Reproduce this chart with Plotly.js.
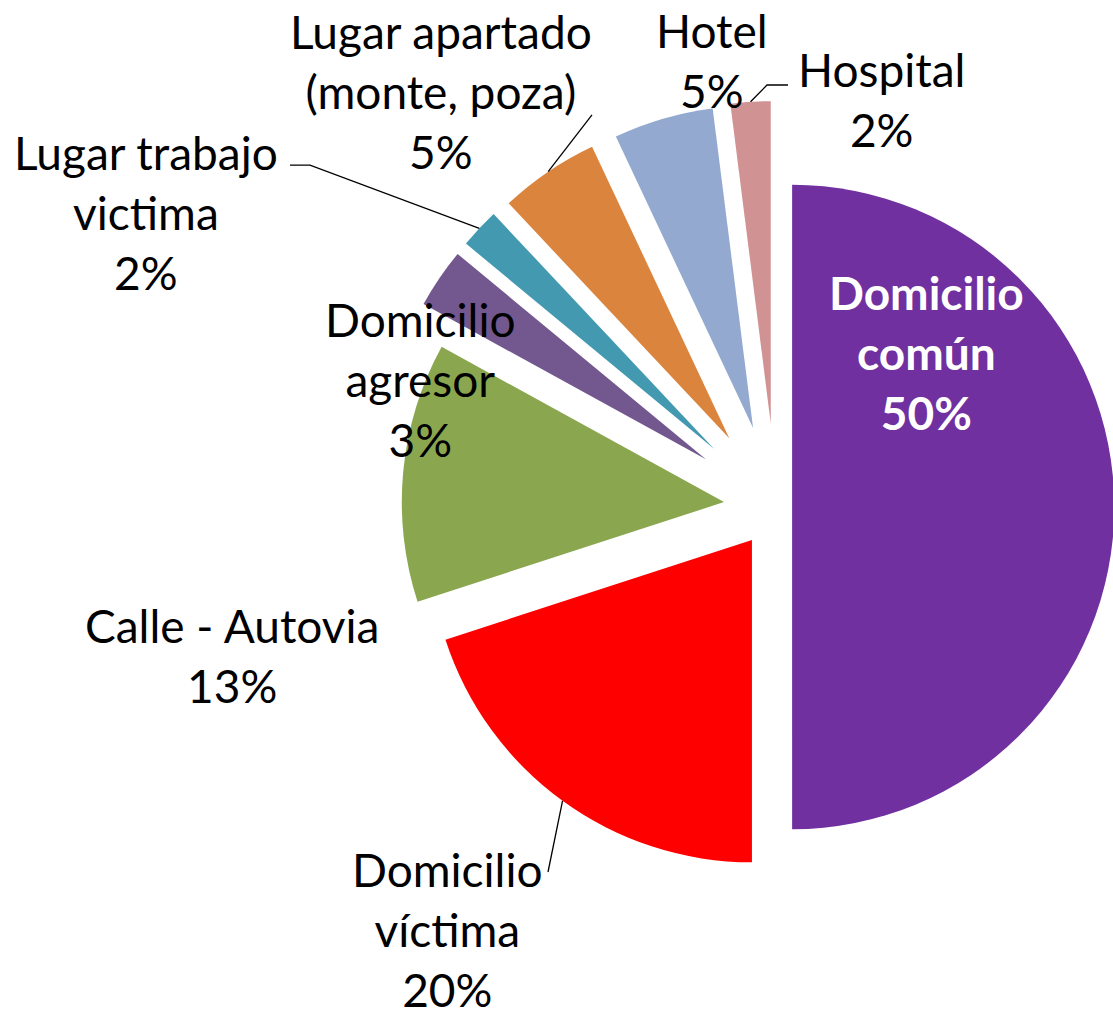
<!DOCTYPE html>
<html>
<head>
<meta charset="utf-8">
<script src="https://cdn.plot.ly/plotly-3.0.1.min.js"></script>
<style>
  html, body { margin: 0; padding: 0; overflow: hidden; background: #ffffff; }
  #chart { width: 1300px; height: 1020px; }
</style>
</head>
<body>
<div id="chart"></div>
<script>
// ---- data ----
const categories = ['Domicilio común', 'Domicilio víctima', 'Calle - Autovia', 'Domicilio agresor',
                    'Lugar trabajo victima', 'Lugar apartado (monte, poza)', 'Hotel', 'Hospital'];
const values = [50, 20, 13, 3, 2, 5, 5, 2];
const labelNames = ['Domicilio<br>común', 'Domicilio<br>víctima', 'Calle - Autovia', 'Domicilio<br>agresor',
                    'Lugar trabajo<br>victima', 'Lugar apartado<br>(monte, poza)', 'Hotel', 'Hospital'];

// ---- styles ----
const colors = ['#7030A0', '#FF0000', '#8AA750', '#72588F', '#4399B0', '#DB843D', '#93A9CF', '#D19293'];
const pulls = [0.05, 0.127, 0.162, 0.263, 0.263, 0.258, 0.255, 0.26];
const labelPos = [[926, 353], [447, 929], [232, 655], [420, 380], [146, 213], [441, 91], [712, 60], [881, 99]];
const leaderEnds = { 1: [[548, 872]], 4: [[290, 165], [310, 165]], 5: [[592, 115]], 7: [[788, 85], [767, 85]] };

// ---- geometry (layout) ----
const W = 1300, H = 1020;
const M = { l: 368, r: 116, t: 100, b: 106 };
const PW = W - M.l - M.r, PH = H - M.t - M.b;
const cx = M.l + PW / 2, cy = M.t + PH / 2;
const maxPull = Math.max(...pulls);
const R = Math.min(PW, PH) / 2 / (1 + maxPull);
const px2x = x => (x - M.l) / PW;
const py2y = y => 1 - (y - M.t) / PH;

const total = values.reduce((a, b) => a + b, 0);
let cum = 0;
const anchors = values.map((v, i) => {
  const mid = (cum + v / 2) / total * 2 * Math.PI;
  cum += v;
  const d = R * (1 + pulls[i]);
  return [cx + d * Math.sin(mid), cy - d * Math.cos(mid)];
});

const annotations = categories.map((c, i) => ({
  xref: 'paper', yref: 'paper',
  x: px2x(labelPos[i][0]), y: py2y(labelPos[i][1]),
  xanchor: 'center', yanchor: 'middle',
  text: (i === 0 ? '<b>' : '') + labelNames[i] + '<br>' + Math.round(values[i] / total * 100) + '%' + (i === 0 ? '</b>' : ''),
  showarrow: false,
  font: { family: 'Lato, "Liberation Sans", sans-serif', size: 46, color: i === 0 ? '#ffffff' : '#000000' }
}));

const shapes = Object.keys(leaderEnds).map(k => {
  const pts = leaderEnds[k].concat([anchors[k]]);
  const path = pts.map((p, j) => (j ? 'L' : 'M') + px2x(p[0]).toFixed(4) + ',' + py2y(p[1]).toFixed(4)).join(' ');
  return { type: 'path', xref: 'paper', yref: 'paper', path: path, line: { color: '#000000', width: 1.3 } };
});

const trace = {
  type: 'pie',
  labels: categories,
  values: values,
  sort: false,
  direction: 'clockwise',
  rotation: 0,
  pull: pulls,
  marker: { colors: colors, line: { width: 0 } },
  textinfo: 'none',
  hoverinfo: 'label+percent',
  showlegend: false
};

Plotly.newPlot('chart', [trace], {
  width: W, height: H,
  margin: M,
  paper_bgcolor: '#ffffff',
  showlegend: false,
  annotations: annotations,
  shapes: shapes
}, { displayModeBar: false, staticPlot: true });
</script>
</body>
</html>
